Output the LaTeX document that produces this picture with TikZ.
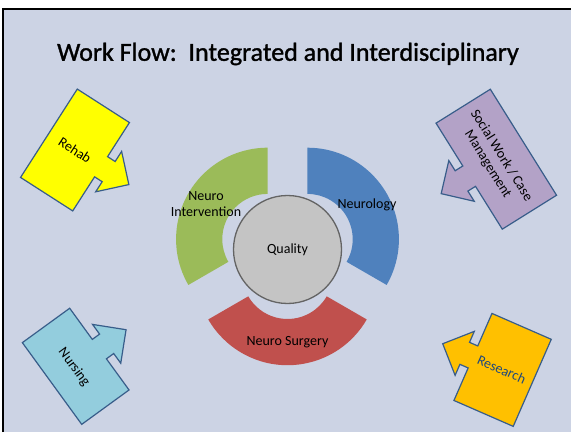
\documentclass[tikz,border=0pt]{standalone}
\usepackage{fontspec}
\setmainfont{Carlito}
\newfontfamily\titlefont{Carlito}[FakeBold=1.2]
\usetikzlibrary{positioning}
\definecolor{slidebg}{RGB}{204,211,228}
\definecolor{edgeblue}{RGB}{56,93,138}
\definecolor{ringgreen}{RGB}{155,187,89}
\definecolor{ringblue}{RGB}{79,129,189}
\definecolor{ringred}{RGB}{192,80,77}
\definecolor{qualgray}{RGB}{196,196,196}
\definecolor{rehabfill}{RGB}{255,255,0}
\definecolor{socialfill}{RGB}{179,162,199}
\definecolor{nursefill}{RGB}{147,205,221}
\definecolor{researchfill}{RGB}{255,192,0}
\definecolor{researchtext}{RGB}{31,73,125}

\begin{document}
\begin{tikzpicture}[x=1pt,y=1pt,inner sep=0pt,
    lbl/.style={font=\fontsize{14}{16}\selectfont,align=center},
    calloutbox/.style={draw=edgeblue,line width=1.2pt,line join=miter}]
    \useasboundingbox (0,0) rectangle (571,432);
    % slide
    \fill[slidebg] (3,0) rectangle (571,423);
    \draw[line width=2.5pt] (3,0) -- (3,423) -- (571,423);
    \node[font=\titlefont\fontsize{26}{30}\selectfont] (title) at (288,378)
        {Work Flow:\ \ Integrated and Interdisciplinary};
    % exploded ring
    \foreach \col/\a in {ringgreen/90,ringblue/-30,ringred/210}
        \fill[\col,shift={(287.5,181.3)},shift={(\a+60:23)}]
            (\a:45.3) arc[start angle=\a,delta angle=120,radius=45.3]
            -- (\a+120:91.5) arc[start angle=\a+120,delta angle=-120,radius=91.5]
            -- cycle;
    \node[circle,minimum size=108pt,fill=qualgray,draw={rgb,255:red,100;green,100;blue,100},
        line width=1.3pt] (quality) at (287.5,182.5) {};
    \node[lbl] (qualitytext) at (quality) {Quality};
    \node[lbl] (intervention) at (206,227.5) {Neuro\\Intervention};
    \node[lbl] (neurology) at (367,227) {Neurology};
    \node[lbl] (surgery) at (287.5,89.5) {Neuro Surgery};
    % callouts
    \foreach \x/\y/\ang/\dep/\hgt/\col in {75/282/-32.7/62/105/rehabfill,
        496.3/272.8/212/64/125/socialfill,
        75.7/65.7/36/58.5/101/nursefill,
        502.6/62.1/156.4/64.7/95/researchfill}
        \filldraw[calloutbox,fill=\col,shift={(\x,\y)},rotate=\ang]
            (-\dep/2,-\hgt/2) -- (\dep/2,-\hgt/2) -- (\dep/2,-12)
            -- (\dep/2+9,-12) -- (\dep/2+9,-24) -- (\dep/2+33,0)
            -- (\dep/2+9,24) -- (\dep/2+9,12) -- (\dep/2,12)
            -- (\dep/2,\hgt/2) -- (-\dep/2,\hgt/2) -- cycle;
    \node[lbl,rotate=-33] (rehab) at (75,282) {Rehab};
    \node[lbl,rotate=-58] (social) at (494.5,272) {Social Work / Case\\Management};
    \node[lbl,rotate=-54] (nursing) at (74,64.7) {Nursing};
    \node[lbl,rotate=-24,text=researchtext] (research) at (501.7,62.7) {Research};
\end{tikzpicture}
\end{document}
